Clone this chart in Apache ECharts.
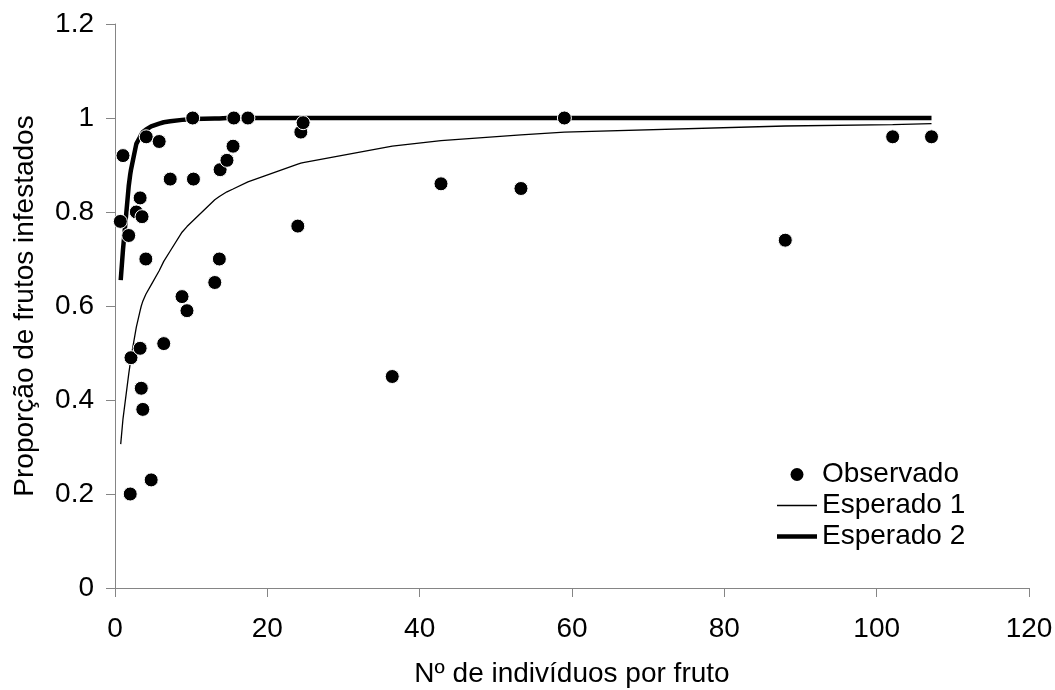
<!DOCTYPE html>
<html>
<head>
<meta charset="utf-8">
<script src="https://cdn.jsdelivr.net/npm/echarts@6/dist/echarts.min.js"></script>
<style>
  html, body { margin: 0; padding: 0; background: #ffffff; }
  #chart { width: 1055px; height: 690px; }
</style>
</head>
<body>
<div id="chart"></div>
<script>
// Observed proportion of infested fruits vs. number of individuals per fruit
const obsX = [0.7, 1.05, 1.8, 2.0, 2.1, 2.8, 3.3, 3.3, 3.45, 3.55, 3.65, 4.05, 4.1, 4.75, 5.8, 6.4, 7.25, 8.8, 9.45, 10.2, 10.3, 13.1, 13.7, 13.8, 14.7, 15.5, 15.6, 17.45, 24.0, 24.4, 24.7, 36.4, 42.8, 53.3, 59.0, 88.0, 102.1, 107.2];
const obsY = [0.78, 0.92, 0.75, 0.20, 0.49, 0.80, 0.83, 0.51, 0.425, 0.79, 0.38, 0.70, 0.96, 0.23, 0.95, 0.52, 0.87, 0.62, 0.59, 1.00, 0.87, 0.65, 0.70, 0.89, 0.91, 0.94, 1.00, 1.00, 0.77, 0.97, 0.99, 0.45, 0.86, 0.85, 1.00, 0.74, 0.96, 0.96];

// Expected curves, evaluated at the sorted observation points
const curveX = [0.75, 1.05, 1.8, 2.0, 2.1, 2.8, 3.3, 3.45, 3.55, 3.65, 4.05, 4.1, 4.75, 5.8, 6.4, 7.25, 8.8, 9.45, 10.2, 10.3, 13.1, 13.7, 13.8, 14.7, 15.5, 15.6, 17.45, 24.0, 24.4, 24.7, 36.4, 42.8, 53.3, 59.0, 88.0, 102.1, 107.2];
const esperado1 = [0.306, 0.36, 0.455, 0.478, 0.49, 0.555, 0.59, 0.60, 0.605, 0.61, 0.625, 0.627, 0.645, 0.675, 0.695, 0.717, 0.757, 0.769, 0.781, 0.783, 0.826, 0.833, 0.835, 0.843, 0.849, 0.850, 0.864, 0.902, 0.904, 0.905, 0.940, 0.952, 0.964, 0.970, 0.983, 0.986, 0.988];
const esperado2 = [0.655, 0.72, 0.855, 0.88, 0.89, 0.945, 0.96, 0.965, 0.968, 0.97, 0.975, 0.976, 0.982, 0.988, 0.991, 0.993, 0.996, 0.997, 0.998, 0.998, 0.999, 0.999, 0.999, 1.0, 1.0, 1.0, 1.0, 1.0, 1.0, 1.0, 1.0, 1.0, 1.0, 1.0, 1.0, 1.0, 1.0];

const xTicks = { min: 0, max: 120, interval: 20 };
const yTicks = { min: 0, max: 1.2, interval: 0.2 };

const FONT = '"Liberation Sans", Arial, sans-serif';
const FS = 28;
const AXIS_GRAY = '#858585';
const THIN = 1.3;
const THICK = 4.5;

const zip = (xs, ys) => xs.map((x, i) => [x, ys[i]]);
// horizontal bar used as the legend key of a line series
const barIcon = (h) => 'path://M0,0H40V' + h + 'H0Z';

const chart = echarts.init(document.getElementById('chart'), null, { renderer: 'canvas' });

chart.setOption({
  animation: false,
  backgroundColor: '#ffffff',
  textStyle: { fontFamily: FONT, color: '#000' },
  grid: { left: 115, right: 26, top: 24, bottom: 102, containLabel: false, outerBoundsMode: 'none' },
  legend: {
    orient: 'vertical',
    left: 772,
    top: 454,
    itemWidth: 40,
    itemHeight: 13,
    itemGap: 0,
    symbolKeepAspect: true,
    selectedMode: false,
    textStyle: { fontFamily: FONT, fontSize: FS, color: '#000', lineHeight: 31 },
    data: [
      { name: 'Observado', icon: 'circle', itemStyle: { borderWidth: 0, color: '#000' } },
      { name: 'Esperado 1', icon: barIcon(THIN), itemStyle: { color: '#000', borderWidth: 0 } },
      { name: 'Esperado 2', icon: barIcon(THICK), itemStyle: { color: '#000', borderWidth: 0 } }
    ]
  },
  xAxis: {
    type: 'value',
    min: xTicks.min, max: xTicks.max, interval: xTicks.interval,
    name: 'Nº de indivíduos por fruto',
    nameLocation: 'middle',
    nameGap: 72,
    nameTextStyle: { fontFamily: FONT, fontSize: FS, color: '#000' },
    axisLine: { show: true, onZero: false, lineStyle: { color: AXIS_GRAY, width: 1 } },
    axisTick: { show: true, inside: false, length: 9, lineStyle: { color: AXIS_GRAY } },
    axisLabel: { margin: 27, fontFamily: FONT, fontSize: FS, color: '#000' },
    splitLine: { show: false }
  },
  yAxis: {
    type: 'value',
    min: yTicks.min, max: yTicks.max, interval: yTicks.interval,
    name: 'Proporção de frutos infestados',
    nameLocation: 'middle',
    nameGap: 76,
    nameTextStyle: { fontFamily: FONT, fontSize: FS, color: '#000' },
    axisLine: { show: true, onZero: false, lineStyle: { color: AXIS_GRAY, width: 1 } },
    axisTick: { show: true, inside: false, length: 9, lineStyle: { color: AXIS_GRAY } },
    axisLabel: { margin: 21, fontFamily: FONT, fontSize: FS, color: '#000' },
    splitLine: { show: false }
  },
  series: [
    {
      name: 'Observado',
      type: 'scatter',
      data: zip(obsX, obsY),
      symbol: 'circle',
      symbolSize: 14,
      itemStyle: { color: '#000', borderColor: '#fff', borderWidth: 1, opacity: 1 },
      z: 5
    },
    {
      name: 'Esperado 1',
      type: 'line',
      data: zip(curveX, esperado1),
      showSymbol: false,
      symbol: 'none',
      lineStyle: { color: '#000', width: THIN },
      itemStyle: { color: '#000' },
      z: 3
    },
    {
      name: 'Esperado 2',
      type: 'line',
      data: zip(curveX, esperado2),
      showSymbol: false,
      symbol: 'none',
      lineStyle: { color: '#000', width: THICK },
      itemStyle: { color: '#000' },
      z: 2
    }
  ]
});
</script>
</body>
</html>
